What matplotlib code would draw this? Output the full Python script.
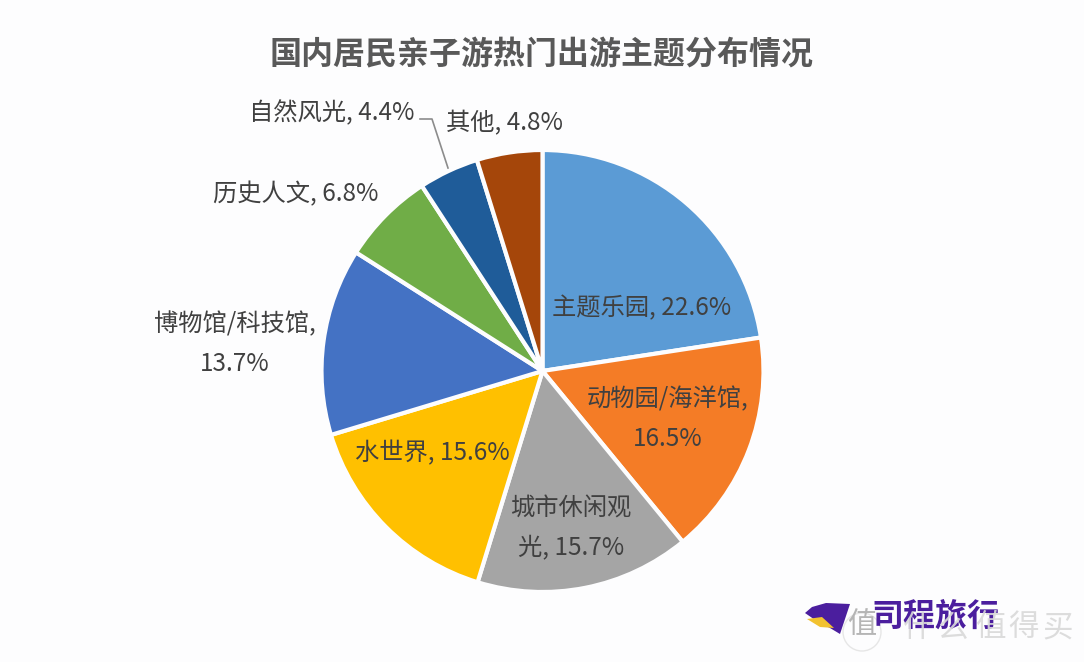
import matplotlib
matplotlib.use("Agg")
import matplotlib.pyplot as plt
from matplotlib.patches import Circle, Polygon

plt.rcParams['font.family'] = ['Noto Sans CJK SC', 'DejaVu Sans']

# Data
categories = ["主题乐园", "动物园/海洋馆", "城市休闲观光", "水世界", "博物馆/科技馆", "历史人文", "自然风光", "其他"]
values = [22.6, 16.5, 15.7, 15.6, 13.7, 6.8, 4.4, 4.8]
colors = ["#5B9BD5", "#F47C26", "#A5A5A5", "#FFC000", "#4472C4", "#70AD47", "#1F5C99", "#A5460A"]
label_text = ["主题乐园, 22.6%", "动物园/海洋馆,\n16.5%", "城市休闲观\n光, 15.7%", "水世界, 15.6%",
              "博物馆/科技馆,\n13.7%", "历史人文, 6.8%", "自然风光, 4.4%", "其他, 4.8%"]
label_pos = [(642, 308), (668, 419), (571, 528), (432, 453), (235, 344), (296, 194), (332, 113), (505, 123)]

W, H = 1084, 662
fig = plt.figure(figsize=(W / 100, H / 100), dpi=100, facecolor="#FDFDFE")
ax = fig.add_axes([0, 0, 1, 1])
ax.axis("off")

# pie centre and radius in pixels
cx, cy, r = 542.5, 371, 221
wedges, _ = ax.pie(values, colors=colors, startangle=90, counterclock=False, center=(cx, -cy), radius=r,
                   wedgeprops=dict(edgecolor="#FDFDFE", linewidth=3), frame=False)
ax.set_aspect("auto")
ax.set_xlim(0, W)
ax.set_ylim(-H, 0)

ax.text(542, -55, "国内居民亲子游热门出游主题分布情况", ha="center", va="center", fontsize=23,
        fontweight="bold", color="#595959")

for txt, (x, y) in zip(label_text, label_pos):
    ax.text(x, -y, txt, ha="center", va="center", fontsize=17.5, color="#404040", linespacing=1.68)

# leader line for 自然风光
ax.plot([420, 432, 448], [-119, -119, -168], color="#8C8C8C", lw=1.2)

# watermark: purple logo, then the site stamp over it
ax.add_patch(Polygon([(805, -613), (812, -607), (826, -603), (850, -604), (846, -616), (840, -634), (830, -628), (818, -622)],
                     closed=True, facecolor="#4B1E9E", edgecolor="none"))
ax.add_patch(Polygon([(807, -619), (822, -617), (834, -628), (820, -627)],
                     closed=True, facecolor="#F2C230", edgecolor="none"))
ax.text(935, -617, "司程旅行", ha="center", va="center", fontsize=23, fontweight="bold", color="#4B1E9E")
ax.add_patch(Circle((862, -632), 19, facecolor="#FDFDFE", edgecolor="#E4E4E4", lw=1, alpha=0.9))
ax.text(862, -625, "值", ha="center", va="center", fontsize=21, color="#B5B5B5")
for ch, x in zip("什么值得买", [918, 952, 990, 1024, 1058]):
    ax.text(x, -628, ch, ha="center", va="center", fontsize=22, color="#D9D9D9", alpha=0.9)

fig.savefig("out.png", dpi=100, facecolor=fig.get_facecolor())
